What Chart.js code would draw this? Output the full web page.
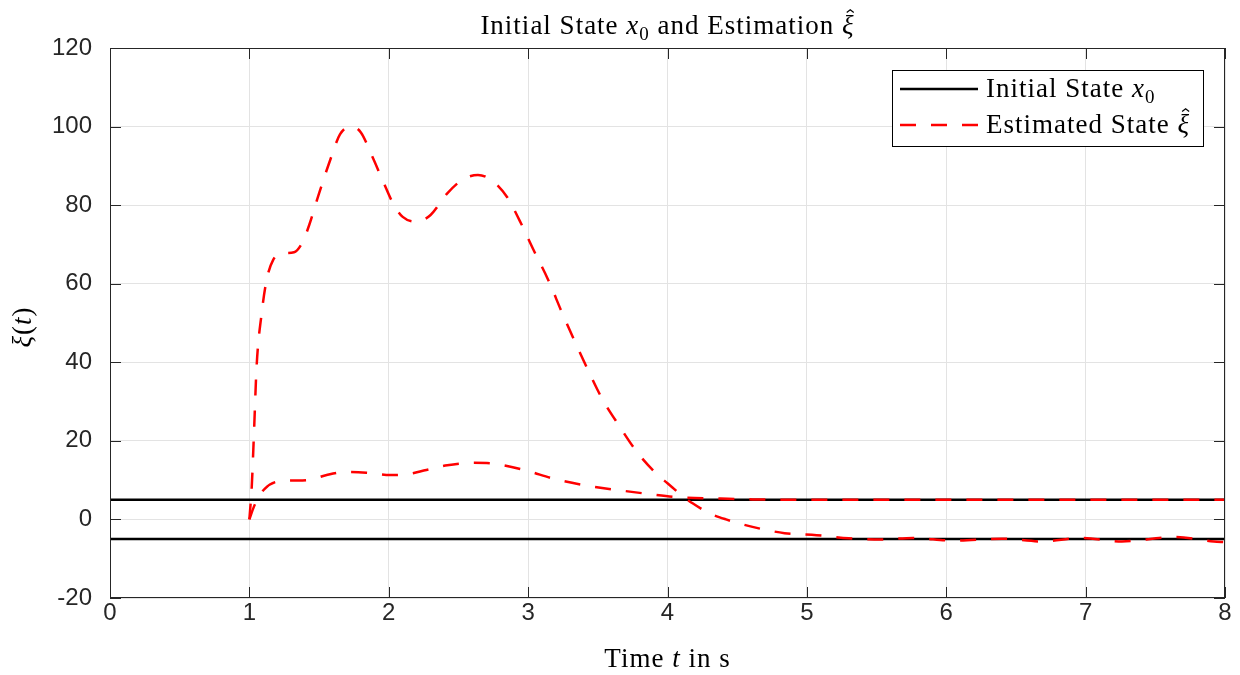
<!DOCTYPE html>
<html>
<head>
<meta charset="utf-8">
<script src="https://cdn.jsdelivr.net/npm/chart.js@4.4.1/dist/chart.umd.min.js"></script>
<style>
  html, body { margin: 0; padding: 0; background: #fff; }
</style>
</head>
<body>
<canvas id="canvas-state" width="1240" height="675"></canvas>
<script>
// initial state bounds x0 (constant over the whole run)
var tInit = [0, 8];
var xInitUpper = [5, 5];
var xInitLower = [-5, -5];

// estimated state, first component
var tEstA = [1.00, 1.017, 1.033, 1.052, 1.088, 1.124, 1.17, 1.24, 1.32, 1.38, 1.43, 1.50, 1.58, 1.65, 1.73,
             1.80, 1.88, 1.96, 2.03, 2.10, 2.20, 2.30, 2.42, 2.53, 2.64, 2.75, 2.85, 2.94, 3.04, 3.145,
             3.24, 3.336, 3.43, 3.53, 3.65, 3.78, 3.93, 4.00, 4.10, 4.18, 4.30, 4.42, 4.61, 4.84, 5.07,
             5.30, 5.53, 5.76, 6.05, 6.40, 6.68, 6.97, 7.26, 7.64, 7.92, 8.00];
var xiEstA = [0, 8.3, 22, 39, 52.4, 61, 66, 67.7, 68, 70.5, 75, 83, 91.5, 98, 100,
              98.5, 92.5, 86, 80.5, 77, 75.8, 77.5, 83, 86.5, 87.7, 86, 82, 76, 68.5, 60.9,
              52.9, 45.2, 38, 30.8, 24, 17.2, 11.3, 9.2, 6.2, 4.1, 1.6, 0, -1.9, -3.5, -4,
              -4.8, -5.1, -4.7, -5.4, -4.9, -5.6, -4.7, -5.6, -4.5, -5.6, -5.8];

// estimated state, second component
var tEstB = [1.00, 1.03, 1.064, 1.11, 1.196, 1.315, 1.435, 1.555, 1.70, 1.84, 2.01, 2.13, 2.27, 2.42,
             2.61, 2.75, 2.97, 3.20, 3.44, 3.68, 3.86, 4.09, 4.38, 4.61, 5.00, 8.00];
var xiEstB = [0, 3, 5.5, 7.8, 9.6, 9.9, 10.1, 11.3, 12.1, 11.9, 11.3, 11.5, 12.6, 13.8,
              14.4, 14.2, 12.6, 10.2, 8.5, 7.3, 6.5, 5.6, 5.3, 5.1, 5.0, 5.0];

var xTicks = [0, 1, 2, 3, 4, 5, 6, 7, 8];
var yTicks = [-20, 0, 20, 40, 60, 80, 100, 120];

var SERIF = '"Liberation Serif", "DejaVu Serif", serif';
var SANS = '"Liberation Sans", Arial, sans-serif';
var AXIS_COLOR = '#262626';
var TEXT_SIZE = 27;

function toPoints(xs, ys) {
    return xs.map(function (x, i) { return { x: x, y: ys[i] }; });
}

// draws a list of text runs (roman / italic / subscript / hatted) as one line
function drawRuns(ctx, runs, x, y, size, align) {
    function fontFor(r) {
        return (r.italic ? 'italic ' : '') + (r.sub ? Math.round(size * 0.7) : size) + 'px ' + SERIF;
    }
    ctx.letterSpacing = '1px';
    var total = 0;
    runs.forEach(function (r) {
        ctx.font = fontFor(r);
        r.w = ctx.measureText(r.text).width;
        total += r.w;
    });
    var cx = align === 'center' ? x - total / 2 : x;
    ctx.textAlign = 'left';
    ctx.textBaseline = 'alphabetic';
    runs.forEach(function (r) {
        ctx.font = fontFor(r);
        ctx.fillText(r.text, cx, y + (r.sub ? size * 0.22 : 0));
        if (r.hat) {
            var hx = cx + r.w / 2 + size * 0.07;
            ctx.save();
            ctx.strokeStyle = ctx.fillStyle;
            ctx.lineWidth = size * 0.045;
            ctx.beginPath();
            ctx.moveTo(hx - size * 0.13, y - size * 0.80);
            ctx.lineTo(hx, y - size * 0.90);
            ctx.lineTo(hx + size * 0.13, y - size * 0.80);
            ctx.stroke();
            ctx.restore();
        }
        cx += r.w;
    });
    ctx.letterSpacing = '0px';
}

var frameAndText = {
    id: 'frameAndText',
    afterDraw: function (chart) {
        var ctx = chart.ctx;
        var a = chart.chartArea;
        var xs = chart.scales.x, ys = chart.scales.y;
        ctx.save();

        // box and inward ticks on all four sides
        ctx.strokeStyle = AXIS_COLOR;
        ctx.lineWidth = 1;
        ctx.strokeRect(a.left + 0.5, a.top + 0.5, a.right - a.left - 1, a.bottom - a.top - 1);
        ctx.beginPath();
        xTicks.forEach(function (v) {
            var px = Math.round(xs.getPixelForValue(v)) + 0.5;
            ctx.moveTo(px, a.bottom); ctx.lineTo(px, a.bottom - 11);
            ctx.moveTo(px, a.top); ctx.lineTo(px, a.top + 11);
        });
        yTicks.forEach(function (v) {
            var py = Math.round(ys.getPixelForValue(v)) + 0.5;
            ctx.moveTo(a.left, py); ctx.lineTo(a.left + 11, py);
            ctx.moveTo(a.right, py); ctx.lineTo(a.right - 11, py);
        });
        ctx.stroke();

        ctx.fillStyle = '#000';
        var midX = (a.left + a.right) / 2;

        // title
        drawRuns(ctx, [
            { text: 'Initial State ' }, { text: 'x', italic: true }, { text: '0', sub: true },
            { text: ' and Estimation ' }, { text: 'ξ', italic: true, hat: true }
        ], midX, 34, TEXT_SIZE, 'center');

        // x axis title
        drawRuns(ctx, [
            { text: 'Time ' }, { text: 't', italic: true }, { text: ' in s' }
        ], midX, 667, TEXT_SIZE, 'center');

        // y axis title
        ctx.save();
        ctx.translate(31, 327);
        ctx.rotate(-Math.PI / 2);
        drawRuns(ctx, [
            { text: 'ξ', italic: true }, { text: '(' }, { text: 't', italic: true }, { text: ')' }
        ], 0, 0, TEXT_SIZE, 'center');
        ctx.restore();

        // legend box
        var lx = 892, ly = 70, lw = 311, lh = 76;
        ctx.fillStyle = '#fff';
        ctx.fillRect(lx, ly, lw, lh);
        ctx.strokeStyle = '#000';
        ctx.lineWidth = 1;
        ctx.strokeRect(lx + 0.5, ly + 0.5, lw, lh);

        var rows = [
            { ds: chart.data.datasets[0], y: 89, runs: [{ text: 'Initial State ' }, { text: 'x', italic: true }, { text: '0', sub: true }] },
            { ds: chart.data.datasets[2], y: 125, runs: [{ text: 'Estimated State ' }, { text: 'ξ', italic: true, hat: true }] }
        ];
        rows.forEach(function (row) {
            ctx.save();
            ctx.strokeStyle = row.ds.borderColor;
            ctx.lineWidth = row.ds.borderWidth;
            ctx.setLineDash(row.ds.borderDash || []);
            ctx.beginPath();
            ctx.moveTo(900, row.y);
            ctx.lineTo(978, row.y);
            ctx.stroke();
            ctx.restore();
            ctx.fillStyle = '#000';
            drawRuns(ctx, row.runs, 986, row.y + 8, TEXT_SIZE, 'left');
        });

        ctx.restore();
    }
};

var lineStyle = function (color, dash) {
    return {
        borderColor: color,
        backgroundColor: color,
        borderWidth: 2.5,
        borderDash: dash,
        pointRadius: 0,
        fill: false,
        cubicInterpolationMode: 'monotone'
    };
};

var datasets = [
    Object.assign({ label: 'Initial State x0', data: toPoints(tInit, xInitUpper) }, lineStyle('#000000', [])),
    Object.assign({ label: 'Initial State x0 (lower)', data: toPoints(tInit, xInitLower) }, lineStyle('#000000', [])),
    Object.assign({ label: 'Estimated State', data: toPoints(tEstA, xiEstA) }, lineStyle('#ff0000', [16, 15])),
    Object.assign({ label: 'Estimated State (2)', data: toPoints(tEstB, xiEstB) }, lineStyle('#ff0000', [16, 15]))
];
// draw the estimates above the initial state lines
datasets[0].order = 2; datasets[1].order = 2;
datasets[2].order = 1; datasets[3].order = 1;

var config = {
    type: 'line',
    data: { datasets: datasets },
    options: {
        responsive: false,
        devicePixelRatio: 1,
        animation: false,
        layout: { padding: { top: 48, right: 15, left: 0, bottom: 0 } },
        plugins: {
            legend: { display: false },
            title: { display: false },
            tooltip: { enabled: false }
        },
        scales: {
            x: {
                type: 'linear',
                min: 0, max: 8,
                afterBuildTicks: function (scale) { scale.ticks = xTicks.map(function (v) { return { value: v }; }); },
                afterFit: function (scale) { scale.height = 77; },
                ticks: { color: AXIS_COLOR, font: { family: SANS, size: 24 }, padding: 1, maxRotation: 0 },
                grid: { color: '#e3e3e3', lineWidth: 1, drawTicks: false },
                border: { display: false }
            },
            y: {
                type: 'linear',
                min: -20, max: 120,
                afterBuildTicks: function (scale) { scale.ticks = yTicks.map(function (v) { return { value: v }; }); },
                afterFit: function (scale) { scale.width = 110; },
                ticks: { color: AXIS_COLOR, font: { family: SANS, size: 24 }, padding: 18 },
                grid: { color: '#e3e3e3', lineWidth: 1, drawTicks: false },
                border: { display: false }
            }
        }
    },
    plugins: [frameAndText]
};

var stateChart = new Chart(document.getElementById('canvas-state'), config);
</script>
</body>
</html>
